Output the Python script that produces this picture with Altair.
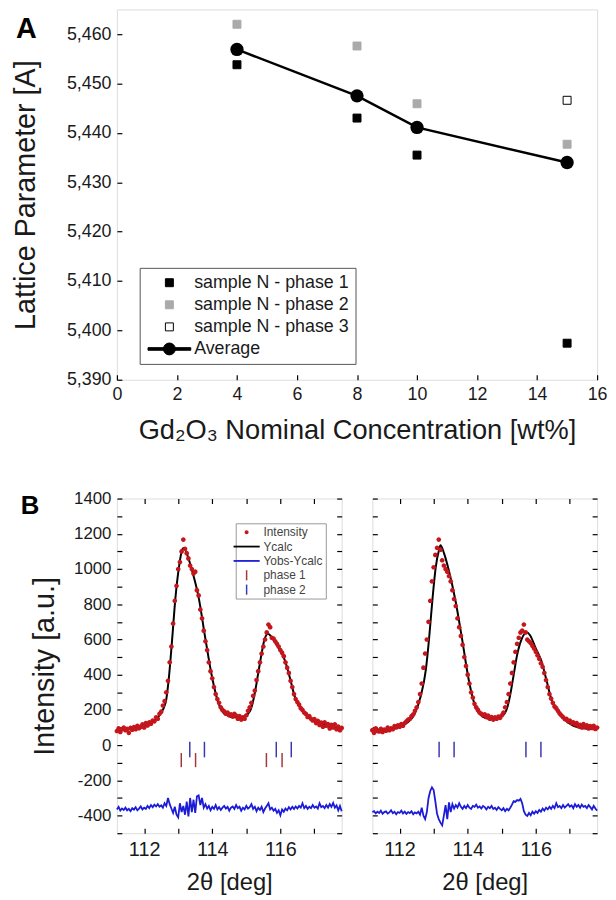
import altair as alt
import pandas as pd

# ---------------- Panel A data ----------------
conc = [4, 8, 10, 15]
phase1 = [5.4538, 5.4430, 5.4355, 5.3974]
phase2 = [5.4620, 5.4576, 5.4459, 5.4377]
phase3_conc = [15]
phase3 = [5.4466]
average = [5.4569, 5.4475, 5.4411, 5.4340]
series_a = ["sample N - phase 1", "sample N - phase 2", "sample N - phase 3", "Average"]
a_x_ticks = [0, 1, 2, 3, 4, 5, 6, 7, 8, 9, 10, 11, 12, 13, 14, 15, 16]
a_y_ticks = [5.390, 5.395, 5.400, 5.405, 5.410, 5.415, 5.420, 5.425, 5.430,
             5.435, 5.440, 5.445, 5.450, 5.455, 5.460]

# ---------------- Panel B data ----------------
theta = [111.20, 111.25, 111.30, 111.35, 111.40, 111.45, 111.50, 111.55, 111.60, 111.65,
         111.70, 111.75, 111.80, 111.85, 111.90, 111.95, 112.00, 112.05, 112.10, 112.15,
         112.20, 112.25, 112.30, 112.35, 112.40, 112.45, 112.50, 112.55, 112.60, 112.65,
         112.70, 112.75, 112.80, 112.85, 112.90, 112.95, 113.00, 113.05, 113.10, 113.15,
         113.20, 113.25, 113.30, 113.35, 113.40, 113.45, 113.50, 113.55, 113.60, 113.65,
         113.70, 113.75, 113.80, 113.85, 113.90, 113.95, 114.00, 114.05, 114.10, 114.15,
         114.20, 114.25, 114.30, 114.35, 114.40, 114.45, 114.50, 114.55, 114.60, 114.65,
         114.70, 114.75, 114.80, 114.85, 114.90, 114.95, 115.00, 115.05, 115.10, 115.15,
         115.20, 115.25, 115.30, 115.35, 115.40, 115.45, 115.50, 115.55, 115.60, 115.65,
         115.70, 115.75, 115.80, 115.85, 115.90, 115.95, 116.00, 116.05, 116.10, 116.15,
         116.20, 116.25, 116.30, 116.35, 116.40, 116.45, 116.50, 116.55, 116.60, 116.65,
         116.70, 116.75, 116.80, 116.85, 116.90, 116.95, 117.00, 117.05, 117.10, 117.15,
         117.20, 117.25, 117.30, 117.35, 117.40, 117.45, 117.50, 117.55, 117.60, 117.65,
         117.70, 117.75, 117.80]

obs_left = [80, 95, 75, 90, 100, 85, 92, 70, 98, 88,
            102, 90, 110, 96, 105, 118, 100, 125, 112, 130,
            122, 140, 135, 158, 150, 178, 190, 225, 250, 300,
            365, 470, 560, 690, 820, 905, 1000, 1040, 1100, 1167,
            1115, 1090, 1060, 1020, 1000, 975, 985, 880, 850, 770,
            720, 650, 590, 540, 470, 420, 380, 330, 290, 262,
            240, 215, 200, 192, 178, 185, 170, 175, 162, 178,
            168, 150, 165, 145, 158, 150, 170, 195, 215, 240,
            280, 310, 370, 420, 470, 520, 560, 600, 640, 685,
            670, 610, 605, 590, 575, 560, 540, 525, 505, 470,
            440, 410, 365, 330, 290, 262, 245, 230, 210, 200,
            185, 178, 160, 165, 150, 140, 148, 125, 138, 115,
            128, 105, 130, 110, 120, 95, 115, 100, 118, 90,
            105, 85, 98]

obs_right = [85, 70, 95, 80, 78, 92, 75, 88, 82, 100,
             85, 95, 90, 108, 100, 112, 105, 120, 110, 125,
             135, 145, 150, 165, 175, 195, 215, 245, 290, 350,
             440, 520, 600, 700, 820, 930, 1010, 1080, 1120, 1167,
             1110, 1050, 1020, 1000, 985, 960, 930, 880, 830, 790,
             720, 670, 620, 570, 500, 450, 400, 350, 300, 270,
             235, 215, 200, 185, 178, 170, 175, 160, 168, 150,
             160, 145, 158, 150, 162, 155, 170, 185, 215, 245,
             290, 350, 410, 470, 530, 575, 610, 640, 650, 685,
             640, 600, 590, 580, 565, 548, 530, 510, 490, 465,
             445, 410, 370, 330, 290, 265, 240, 220, 210, 195,
             180, 170, 160, 148, 150, 135, 140, 125, 130, 118,
             125, 108, 115, 100, 120, 105, 112, 95, 108, 98,
             110, 92, 100]

diff_left = [-365, -350, -372, -360, -368, -355, -370, -362, -375, -358,
             -366, -352, -370, -360, -348, -365, -355, -362, -345, -358,
             -340, -352, -338, -348, -335, -350, -342, -355, -330, -345,
             -300, -335, -360, -385, -350, -395, -410, -330, -380, -345,
             -395, -320, -405, -300, -380, -310, -385, -290, -285, -340,
             -300, -355, -335, -360, -345, -370, -350, -362, -340, -365,
             -352, -368, -355, -345, -360, -350, -372, -355, -348, -362,
             -340, -358, -350, -372, -355, -365, -345, -360, -352, -335,
             -362, -350, -375, -355, -368, -350, -380, -360, -345, -330,
             -365, -355, -372, -362, -385, -370, -398, -365, -378, -360,
             -370, -352, -365, -350, -362, -348, -360, -345, -355, -330,
             -358, -345, -362, -350, -358, -340, -355, -348, -360, -330,
             -352, -345, -358, -340, -355, -335, -350, -328, -355, -342,
             -370, -345, -375]

diff_right = [-380, -375, -388, -378, -385, -372, -390, -380, -376, -388,
              -382, -370, -386, -378, -392, -380, -385, -372, -388, -378,
              -390, -380, -386, -375, -392, -382, -388, -378, -395, -355,
              -400, -420, -380, -300, -260, -240, -255, -320, -390, -420,
              -440, -455, -400, -340, -420, -325, -380, -335, -360, -340,
              -355, -330, -350, -362, -345, -358, -340, -355, -362, -345,
              -350, -338, -355, -348, -360, -345, -352, -365, -350, -358,
              -345, -362, -355, -368, -352, -362, -370, -358, -375, -362,
              -370, -355, -338, -318, -322, -312, -315, -305, -330, -375,
              -395, -402, -385, -398, -378, -390, -375, -385, -368, -378,
              -360, -372, -355, -365, -350, -362, -345, -358, -330, -352,
              -345, -358, -340, -355, -345, -335, -350, -342, -358, -335,
              -350, -340, -355, -338, -350, -345, -358, -340, -352, -365,
              -345, -360, -372]

calc_left_x = [111.20, 111.75, 112.14, 112.43, 112.63, 112.72, 112.82, 112.92, 113.02, 113.12,
               113.16, 113.26, 113.41, 113.60, 113.79, 113.99, 114.18, 114.38, 114.67, 114.86,
               114.96, 115.11, 115.25, 115.35, 115.45, 115.54, 115.64, 115.74, 115.93, 116.13,
               116.27, 116.42, 116.61, 116.91, 117.29, 117.80]
calc_left_y = [88, 95, 118, 165, 240, 371, 596, 839, 1008, 1111,
               1120, 1083, 989, 839, 614, 390, 240, 175, 158, 160,
               165, 193, 296, 409, 521, 605, 633, 614, 558, 483,
               390, 277, 202, 146, 118, 92]
calc_right_x = [111.20, 111.75, 112.14, 112.43, 112.62, 112.77, 112.87, 112.97, 113.06, 113.16,
                113.20, 113.30, 113.45, 113.64, 113.84, 114.03, 114.22, 114.42, 114.66, 114.76,
                115.01, 115.16, 115.25, 115.35, 115.45, 115.59, 115.74, 115.83, 115.98, 116.17,
                116.31, 116.46, 116.66, 116.95, 117.29, 117.80]
calc_right_y = [88, 95, 118, 174, 277, 427, 614, 839, 1008, 1111,
                1135, 1092, 989, 821, 596, 371, 221, 165, 148, 150,
                165, 212, 287, 399, 511, 605, 639, 624, 558, 474,
                371, 259, 184, 128, 99, 90]

refl_phase1_left = [113.09, 113.51, 115.59, 116.05]
refl_phase2_left = [113.34, 113.77, 115.88, 116.32]
refl_phase2_right = [113.16, 113.60, 115.71, 116.15]
refl_phase1_span = [-45, -125]
refl_phase2_span = [19, -69]

series_b = ["Intensity", "Ycalc", "Yobs-Ycalc", "phase 1", "phase 2"]
b_x_ticks = [112, 113, 114, 115, 116, 117]
b_y_ticks = [-500, -400, -300, -200, -100, 0, 100, 200, 300, 400, 500, 600, 700,
             800, 900, 1000, 1100, 1200, 1300, 1400]

FONT = "Liberation Sans"
TXT = "#1a1a1a"
RED = "#c4161c"
BLUE = "#1c1cd6"
TICK_RED = "#a03a3a"
TICK_BLUE = "#3a3aae"

# ---------------- Panel A ----------------
rows = []
for c, v in zip(conc, phase1):
    rows.append({"conc": c, "value": v, "series": series_a[0]})
for c, v in zip(conc, phase2):
    rows.append({"conc": c, "value": v, "series": series_a[1]})
for c, v in zip(phase3_conc, phase3):
    rows.append({"conc": c, "value": v, "series": series_a[2]})
df_a = pd.DataFrame(rows)
df_avg = pd.DataFrame({"conc": conc, "value": average})

SQ = "M-0.67,-0.67H0.67V0.67H-0.67Z"
AVG = "M-3.6,-0.22H3.6V0.22H-3.6Z M1,0A1,1 0 1,1 -1,0A1,1 0 1,1 1,0Z"

xa_scale = alt.Scale(domain=[0, 16], nice=False, zero=False)
ya_scale = alt.Scale(domain=[5.39, 5.465], nice=False, zero=False)

ax_a_x = alt.Axis(values=a_x_ticks, labelExpr="datum.value % 2 == 0 ? datum.label : ''",
                  tickSize=5, offset=-5, domain=False, grid=False, tickColor="black", tickWidth=1.2,
                  labelFontSize=18, labelPadding=6, labelFlush=False, labelOverlap=False,
                  labelColor=TXT, labelFont=FONT,
                  title="Gd₂O₃ Nominal Concentration [wt%]", titleFontSize=27.5,
                  titleFontWeight="normal", titleFont=FONT, titleColor=TXT, titlePadding=13)
ax_a_y = alt.Axis(values=a_y_ticks,
                  labelExpr="round(datum.value*1000) % 10 == 0 ? replace(format(datum.value, '.3f'), '.', ',') : ''",
                  tickSize=5, offset=-5, domain=False, grid=False, tickColor="black", tickWidth=1.2,
                  labelFontSize=18, labelPadding=6, labelFlush=False, labelOverlap=False,
                  labelColor=TXT, labelFont=FONT,
                  title="Lattice Parameter [A]", titleFontSize=29, titleFontWeight="normal",
                  titleFont=FONT, titleColor=TXT, titlePadding=26)

leg_a = alt.Legend(title=None, orient="none", legendX=23, legendY=261, padding=6,
                   symbolOffset=15, labelOffset=16, symbolSize=144, symbolStrokeWidth=1,
                   labelFontSize=18, labelFont=FONT, labelColor=TXT, rowPadding=4.3,
                   strokeColor="#555555", fillColor="white", labelLimit=300)

pts_a = alt.Chart(df_a).mark_point(filled=True, size=144, strokeWidth=1, opacity=1).encode(
    x=alt.X("conc:Q", scale=xa_scale, axis=ax_a_x),
    y=alt.Y("value:Q", scale=ya_scale, axis=ax_a_y),
    shape=alt.Shape("series:N", scale=alt.Scale(domain=series_a, range=[SQ, SQ, SQ, AVG]), legend=leg_a),
    fill=alt.Fill("series:N", scale=alt.Scale(domain=series_a, range=["black", "#aaaaaa", "white", "black"]), legend=leg_a),
    stroke=alt.Stroke("series:N", scale=alt.Scale(domain=series_a, range=["black", "#aaaaaa", "black", "black"]), legend=leg_a),
)
line_a = alt.Chart(df_avg).mark_line(color="black", strokeWidth=2.5).encode(
    x=alt.X("conc:Q", scale=xa_scale), y=alt.Y("value:Q", scale=ya_scale))
circ_a = alt.Chart(df_avg).mark_point(filled=True, color="black", size=180, shape="circle", opacity=1).encode(
    x=alt.X("conc:Q", scale=xa_scale), y=alt.Y("value:Q", scale=ya_scale))
label_a = alt.Chart(pd.DataFrame({"lab": ["A"]})).mark_text(
    font=FONT, fontSize=29, fontWeight="bold", color="black", align="left", baseline="alphabetic"
).encode(text="lab:N", x=alt.value(-102), y=alt.value(29))

chart_a = alt.layer(pts_a, line_a, circ_a, label_a).properties(width=485, height=374)

# ---------------- Panel B ----------------
DOT = "M0.67,0A0.67,0.67 0 1,1 -0.67,0A0.67,0.67 0 1,1 0.67,0Z"
LINE = "M-4.4,-0.3H4.4V0.3H-4.4Z"
TICK = "M-0.25,-1.7H0.25V1.7H-0.25Z"

xb_scale = alt.Scale(domain=[111.2, 117.8], nice=False, zero=False)
yb_scale = alt.Scale(domain=[-500, 1400], nice=False, zero=False)

def ax_xb(labels):
    if labels:
        return alt.Axis(values=b_x_ticks, labelExpr="datum.value % 2 == 0 ? datum.label : ''",
                        tickSize=5, offset=-5, domain=False, grid=False, tickColor="black", tickWidth=1.2,
                        labelFontSize=20, labelPadding=7, labelFlush=False, labelOverlap=False,
                        labelColor=TXT, labelFont=FONT, title="2θ [deg]", titleFontSize=24,
                        titleFontWeight="normal", titleFont=FONT, titleColor=TXT, titlePadding=11)
    return alt.Axis(orient="top", values=b_x_ticks, labels=False, tickSize=5, offset=-5, domain=False,
                    grid=False, tickColor="black", tickWidth=1.2, title=None)

def ax_yb(orient, labels):
    if labels:
        return alt.Axis(orient=orient, values=b_y_ticks,
                        labelExpr="datum.value % 200 == 0 ? toString(datum.value) : ''",
                        tickSize=5, offset=-5, domain=False, grid=False, tickColor="black", tickWidth=1.2,
                        labelFontSize=17, labelPadding=6, labelFlush=False, labelOverlap=False,
                        labelColor=TXT, labelFont=FONT, title="Intensity [a.u.]", titleFontSize=29,
                        titleFontWeight="normal", titleFont=FONT, titleColor=TXT, titlePadding=14)
    return alt.Axis(orient=orient, values=b_y_ticks, labels=False, tickSize=5, offset=-5, domain=False,
                    grid=False, tickColor="black", tickWidth=1.2, title=None)

leg_b = alt.Legend(title=None, orient="none", legendX=120, legendY=25, padding=3,
                   symbolOffset=2, labelOffset=11, symbolSize=36, symbolStrokeWidth=0,
                   labelFontSize=12, labelFont=FONT, labelColor="#444444", rowPadding=2.5,
                   strokeColor="#999999", fillColor="white", labelLimit=200)


def panel(obs, cx, cy, diff, refl1, refl2, left):
    df_obs = pd.DataFrame({"t": theta, "v": obs, "series": "Intensity"})
    df_calc = pd.DataFrame({"t": cx, "v": cy})
    df_diff = pd.DataFrame({"t": theta, "v": diff})
    df_r2 = pd.DataFrame({"t": refl2, "y1": refl_phase2_span[0], "y2": refl_phase2_span[1]})
    if left:
        dots = alt.Chart(df_obs).mark_point(filled=True, size=49, opacity=1).encode(
            x=alt.X("t:Q", scale=xb_scale, axis=ax_xb(True)),
            y=alt.Y("v:Q", scale=yb_scale, axis=ax_yb("left", True)),
            color=alt.Color("series:N", scale=alt.Scale(domain=series_b,
                            range=[RED, "black", BLUE, TICK_RED, TICK_BLUE]), legend=leg_b),
            shape=alt.Shape("series:N", scale=alt.Scale(domain=series_b,
                            range=[DOT, LINE, LINE, TICK, TICK]), legend=leg_b),
        )
    else:
        dots = alt.Chart(df_obs).mark_point(filled=True, size=49, opacity=1, color=RED, shape=DOT).encode(
            x=alt.X("t:Q", scale=xb_scale, axis=ax_xb(True)),
            y=alt.Y("v:Q", scale=yb_scale, axis=ax_yb("left", False)),
        )
    calc = alt.Chart(df_calc).mark_line(color="black", strokeWidth=2, interpolate="monotone").encode(
        x=alt.X("t:Q", scale=xb_scale, axis=ax_xb(False)),
        y=alt.Y("v:Q", scale=yb_scale, axis=ax_yb("right", False)),
    )
    dline = alt.Chart(df_diff).mark_line(color=BLUE, strokeWidth=1.8).encode(
        x=alt.X("t:Q", scale=xb_scale, axis=None), y=alt.Y("v:Q", scale=yb_scale, axis=None))
    r2 = alt.Chart(df_r2).mark_rule(color=TICK_BLUE, strokeWidth=1.5).encode(
        x=alt.X("t:Q", scale=xb_scale, axis=None), y=alt.Y("y1:Q", scale=yb_scale, axis=None), y2="y2:Q")
    layers = [dline, r2, calc, dots]
    if refl1 is not None:
        df_r1 = pd.DataFrame({"t": refl1, "y1": refl_phase1_span[0], "y2": refl_phase1_span[1]})
        r1 = alt.Chart(df_r1).mark_rule(color=TICK_RED, strokeWidth=1.5).encode(
            x=alt.X("t:Q", scale=xb_scale, axis=None), y=alt.Y("y1:Q", scale=yb_scale, axis=None), y2="y2:Q")
        layers.insert(1, r1)
    if left:
        lab = alt.Chart(pd.DataFrame({"lab": ["B"]})).mark_text(
            font=FONT, fontSize=26, fontWeight="bold", color="black", align="left", baseline="alphabetic"
        ).encode(text="lab:N", x=alt.value(-97), y=alt.value(16))
        layers.append(lab)
    ch = alt.layer(*layers).resolve_axis(x="independent", y="independent").properties(width=227, height=338)
    return ch

left_b = panel(obs_left, calc_left_x, calc_left_y, diff_left, refl_phase1_left, refl_phase2_left, True)
right_b = panel(obs_right, calc_right_x, calc_right_y, diff_right, None, refl_phase2_right, False)

bottom = alt.hconcat(left_b, right_b, spacing=31, bounds="flush").resolve_scale(
    color="independent", shape="independent")

chart = alt.vconcat(chart_a, bottom, spacing=45,
                    padding={"top": -4, "left": 3, "right": 0, "bottom": 0}).resolve_scale(
    color="independent", shape="independent", fill="independent", stroke="independent"
).resolve_legend(color="independent", shape="independent", fill="independent", stroke="independent"
).configure_view(stroke="black", strokeWidth=1.5).configure(background="white")

chart.save("out.html", embed_options={"renderer": "svg", "actions": False})
